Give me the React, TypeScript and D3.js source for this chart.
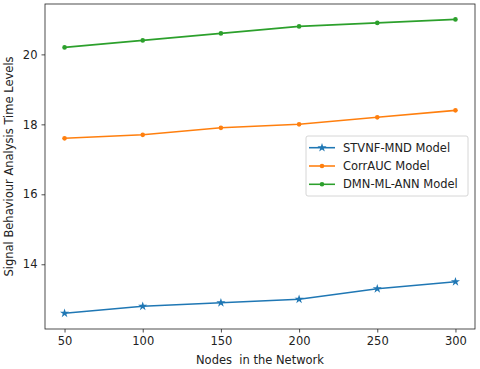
import { useEffect, useRef } from "react";
import * as d3 from "d3";

// data
const nodes = [50, 100, 150, 200, 250, 300];
const stvnf = [12.6, 12.8, 12.9, 13.0, 13.3, 13.5];
const corrAuc = [17.6, 17.7, 17.9, 18.0, 18.2, 18.4];
const dmnAnn = [20.2, 20.4, 20.6, 20.8, 20.9, 21.0];
const seriesNames = ["STVNF-MND Model", "CorrAUC Model", "DMN-ML-ANN Model"];
const colors = ["#1f77b4", "#ff7f0e", "#2ca02c"];
const yTicks = [14, 16, 18, 20];

const W = 480;
const H = 369;
const m = { left: 45, right: 5, top: 4, bottom: 40 };
const FONT = "DejaVu Sans, sans-serif";
const FS = 11.5;

const App = () => {
  const svgRef = useRef<SVGSVGElement>(null);

  useEffect(() => {
    const svg = d3.select(svgRef.current);
    svg.selectAll("*").remove();

    const x = d3.scaleLinear().domain([37.5, 312.5]).range([m.left, W - m.right]);
    const y = d3.scaleLinear().domain([12.15, 21.44]).range([H - m.bottom, m.top]);

    const g = svg.append("g");

    // axes
    const xAxis = d3.axisBottom(x).tickValues(nodes).tickSize(3.5).tickPadding(4.5).tickFormat(d3.format("d"));
    g.append("g")
      .attr("transform", `translate(0,${H - m.bottom})`)
      .call(xAxis)
      .call((a) => a.select(".domain").remove());

    const yAxis = d3.axisLeft(y).tickValues(yTicks).tickSize(3.5).tickPadding(4).tickFormat(d3.format("d"));
    g.append("g")
      .attr("transform", `translate(${m.left},0)`)
      .call(yAxis)
      .call((a) => a.select(".domain").remove());

    g.selectAll(".tick text").attr("font-family", FONT).attr("font-size", FS).attr("fill", "#222");
    g.selectAll(".tick line").attr("stroke", "#222").attr("stroke-width", 0.8);

    // frame
    g.append("rect")
      .attr("x", m.left)
      .attr("y", m.top)
      .attr("width", W - m.left - m.right)
      .attr("height", H - m.top - m.bottom)
      .attr("fill", "none")
      .attr("stroke", "#222")
      .attr("stroke-width", 0.8);

    const data = [stvnf, corrAuc, dmnAnn];
    const line = d3
      .line<number>()
      .x((_, i) => x(nodes[i]))
      .y((d) => y(d));
    const star = d3.symbol().type(d3.symbolStar).size(26);

    data.forEach((vals, si) => {
      g.append("path")
        .attr("d", line(vals))
        .attr("fill", "none")
        .attr("stroke", colors[si])
        .attr("stroke-width", 1.56);
      if (si === 0) {
        g.selectAll(null)
          .data(vals)
          .join("path")
          .attr("d", star())
          .attr("transform", (d, i) => `translate(${x(nodes[i])},${y(d)})`)
          .attr("fill", colors[si]);
      } else {
        g.selectAll(null)
          .data(vals)
          .join("circle")
          .attr("cx", (_, i) => x(nodes[i]))
          .attr("cy", (d) => y(d))
          .attr("r", 2.3)
          .attr("fill", colors[si]);
      }
    });

    // legend
    const lg = g.append("g").attr("transform", "translate(306,136)");
    lg.append("rect")
      .attr("width", 162)
      .attr("height", 60)
      .attr("rx", 2)
      .attr("fill", "white")
      .attr("fill-opacity", 0.8)
      .attr("stroke", "#ccc")
      .attr("stroke-width", 0.8);
    seriesNames.forEach((name, i) => {
      const cy = 11.7 + i * 18.3;
      lg.append("line")
        .attr("x1", 3)
        .attr("x2", 29)
        .attr("y1", cy)
        .attr("y2", cy)
        .attr("stroke", colors[i])
        .attr("stroke-width", 1.56);
      if (i === 0) {
        lg.append("path").attr("d", star()).attr("transform", `translate(16,${cy})`).attr("fill", colors[i]);
      } else {
        lg.append("circle").attr("cx", 16).attr("cy", cy).attr("r", 2.3).attr("fill", colors[i]);
      }
      lg.append("text")
        .attr("x", 37)
        .attr("y", cy)
        .attr("dy", "0.35em")
        .attr("font-family", FONT)
        .attr("font-size", FS)
        .attr("fill", "#222")
        .text(name);
    });

    // axis labels
    g.append("text")
      .attr("x", (m.left + W - m.right) / 2)
      .attr("y", 364)
      .attr("text-anchor", "middle")
      .attr("font-family", FONT)
      .attr("font-size", FS)
      .attr("fill", "#222")
      .style("white-space", "pre")
      .text("Nodes  in the Network");

    g.append("text")
      .attr("transform", `translate(12.5,${(m.top + H - m.bottom) / 2}) rotate(-90)`)
      .attr("text-anchor", "middle")
      .attr("font-family", FONT)
      .attr("font-size", FS)
      .attr("fill", "#222")
      .text("Signal Behaviour Analysis Time Levels");
  }, []);

  return (
    <svg
      ref={svgRef}
      width={W}
      height={H}
      style={{ position: "absolute", left: 0, top: 0, background: "white" }}
    />
  );
};

export default App;
